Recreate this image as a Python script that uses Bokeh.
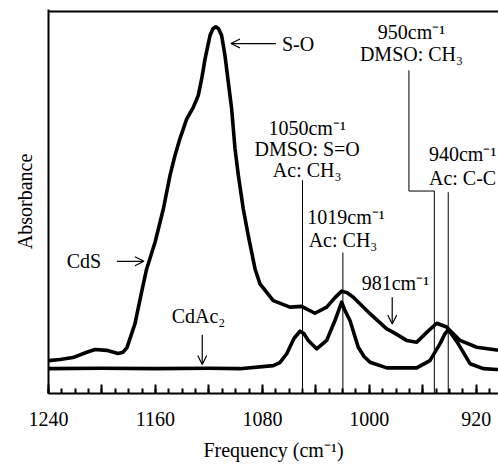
from bokeh.plotting import figure
from bokeh.models import Range1d, FixedTicker, Arrow, OpenHead, Span, ColumnDataSource
from bokeh.core.properties import value
from bokeh.embed import file_html
from bokeh.resources import INLINE

# ---------------- data ----------------
CDS_FREQ = [1240, 1231.4, 1221.7, 1211.4, 1205.2, 1196.5, 1188.0, 1184.3, 1181.3, 1175.3,
            1170.1, 1166.6, 1160.3, 1154.1, 1149.1, 1145.4, 1141.6, 1136.6, 1131.7, 1128.0,
            1125.4, 1122.9, 1119.2, 1117.0, 1114.9, 1112.8, 1110.5, 1108.0, 1105.5, 1103.0,
            1100.5, 1098.0, 1094.3, 1090.6, 1085.5, 1081.8, 1071.9, 1059.4, 1050.6, 1040.7,
            1031.9, 1025.7, 1020.7, 1016.7, 1012.0, 999.5, 987.0, 982.1, 972.1, 964.6,
            957.1, 949.6, 942.2, 932.2, 919.7, 904.8, 900.0]
CDS_ABS = [0.086, 0.089, 0.094, 0.108, 0.115, 0.113, 0.105, 0.108, 0.120, 0.183,
           0.270, 0.326, 0.396, 0.483, 0.571, 0.623, 0.668, 0.719, 0.749, 0.780,
           0.824, 0.876, 0.937, 0.955, 0.960, 0.955, 0.937, 0.885, 0.815, 0.745,
           0.641, 0.571, 0.483, 0.414, 0.326, 0.287, 0.243, 0.226, 0.228, 0.210,
           0.226, 0.251, 0.268, 0.264, 0.252, 0.209, 0.169, 0.160, 0.139, 0.134,
           0.160, 0.184, 0.174, 0.139, 0.121, 0.114, 0.113]

CDAC_FREQ = [1240, 1200, 1160, 1120, 1097, 1071.9, 1066.9, 1061.8, 1056.4, 1051.9,
             1049.0, 1045.7, 1039.4, 1031.9, 1025.7, 1022.7, 1020.7, 1018.6, 1014.5, 1008.3,
             1004.0, 999.5, 987.0, 964.6, 954.7, 947.2, 943.8, 941.0, 938.2, 933.5,
             924.7, 914.8, 904.8, 900.0]
CDAC_ABS = [0.065, 0.066, 0.065, 0.066, 0.065, 0.073, 0.081, 0.104, 0.144, 0.163,
            0.157, 0.139, 0.117, 0.139, 0.191, 0.220, 0.239, 0.220, 0.191, 0.121,
            0.097, 0.082, 0.067, 0.067, 0.086, 0.130, 0.154, 0.167, 0.154, 0.130,
            0.078, 0.065, 0.063, 0.063]

TICKS = [1240, 1200, 1160, 1120, 1080, 1040, 1000, 960, 920]
TICK_LABELS = ["1240", "", "1160", "", "1080", "", "1000", "", "920"]
MINOR_TICKS = list(range(910, 1241, 10))

FONT = "Liberation Serif"

# ---------------- figure ----------------
p = figure(width=498, height=465, output_backend="svg", toolbar_location=None,
           x_range=Range1d(1240, 903.4), y_range=Range1d(0, 1.0052),
           min_border_left=48, min_border_right=0, min_border_top=9, min_border_bottom=72)
p.outline_line_color = None
p.grid.visible = False
p.background_fill_color = "white"
p.border_fill_color = "white"

# bottom axis
xa = p.xaxis[0]
xa.ticker = FixedTicker(ticks=TICKS, minor_ticks=MINOR_TICKS)
xa.major_label_overrides = {t: lab for t, lab in zip(TICKS, TICK_LABELS)}
xa.axis_line_width = 2
xa.major_tick_in = 9
xa.major_tick_out = 0
xa.minor_tick_in = 5
xa.minor_tick_out = 0
xa.major_tick_line_width = 2
xa.minor_tick_line_width = 2
xa.major_label_standoff = 18
xa.major_label_text_font = FONT
xa.major_label_text_font_size = "20px"
xa.major_label_text_color = "black"
xa.axis_label = "Frequency (cm\u207b\u00b9)"
xa.axis_label_text_font = FONT
xa.axis_label_text_font_style = "normal"
xa.axis_label_text_font_size = "20px"
xa.axis_label_text_color = "black"
xa.axis_label_standoff = 10

# left axis
ya = p.yaxis[0]
ya.ticker = FixedTicker(ticks=[])
ya.axis_line_width = 2
ya.major_tick_line_color = None
ya.minor_tick_line_color = None
ya.axis_label = "Absorbance"
ya.axis_label_text_font = FONT
ya.axis_label_text_font_style = "normal"
ya.axis_label_text_font_size = "20px"
ya.axis_label_text_color = "black"
ya.axis_label_standoff = 13

# top border
p.add_layout(Span(location=1.0, dimension="width", line_color="black", line_width=2))

# spectra
p.line(CDS_FREQ, CDS_ABS, line_color="black", line_width=3.6, line_join="round")
p.line(CDAC_FREQ, CDAC_ABS, line_color="black", line_width=3.6, line_join="round")

# marker lines
p.segment(x0=[1050.0, 1019.8, 941.0], y0=[0.558, 0.369, 0.527],
          x1=[1050.0, 1019.8, 941.0], y1=[0.0, 0.0, 0.0], line_color="black", line_width=1)
p.line([970.4, 970.4, 951.4, 951.4], [0.846, 0.530, 0.530, 0.0], line_color="black", line_width=1)

# texts
center_src = ColumnDataSource(dict(
    x=[968.5, 968.5, 1046.5, 1046.5, 1046.5],
    y=[0.945, 0.890, 0.696, 0.641, 0.584],
    text=["950cm\u207b\u00b9", "DMSO: CH\u2083", "1050cm\u207b\u00b9", "DMSO: S=O", "Ac: CH\u2083"]))
left_src = ColumnDataSource(dict(
    x=[1065.4, 1046.4, 1045.4, 955.4, 955.4, 1005.7, 1226.4, 1147.9],
    y=[0.916, 0.461, 0.401, 0.628, 0.565, 0.288, 0.348, 0.204],
    text=["S-O", "1019cm\u207b\u00b9", "Ac: CH\u2083", "940cm\u207b\u00b9", "Ac: C-C",
          "981cm\u207b\u00b9", "CdS", "CdAc\u2082"]))
for src, align in ((center_src, "center"), (left_src, "left")):
    p.text(x="x", y="y", text="text", source=src, text_font=value(FONT),
           text_font_size=value("20px"), text_align=align, text_baseline="middle",
           text_color="black")

# arrows
def arrow(x0, y0, x1, y1):
    p.add_layout(Arrow(end=OpenHead(size=9, line_width=1.2, line_color="black"),
                       x_start=x0, y_start=y0, x_end=x1, y_end=y1,
                       line_width=1.2, line_color="black"))

arrow(1069.9, 0.916, 1103.5, 0.916)   # S-O
arrow(1188.8, 0.346, 1168.6, 0.346)   # CdS
arrow(1125.0, 0.154, 1125.0, 0.076)   # CdAc2
arrow(982.9, 0.252, 982.9, 0.182)     # 981

open("out.html", "w").write(file_html(p, INLINE))
